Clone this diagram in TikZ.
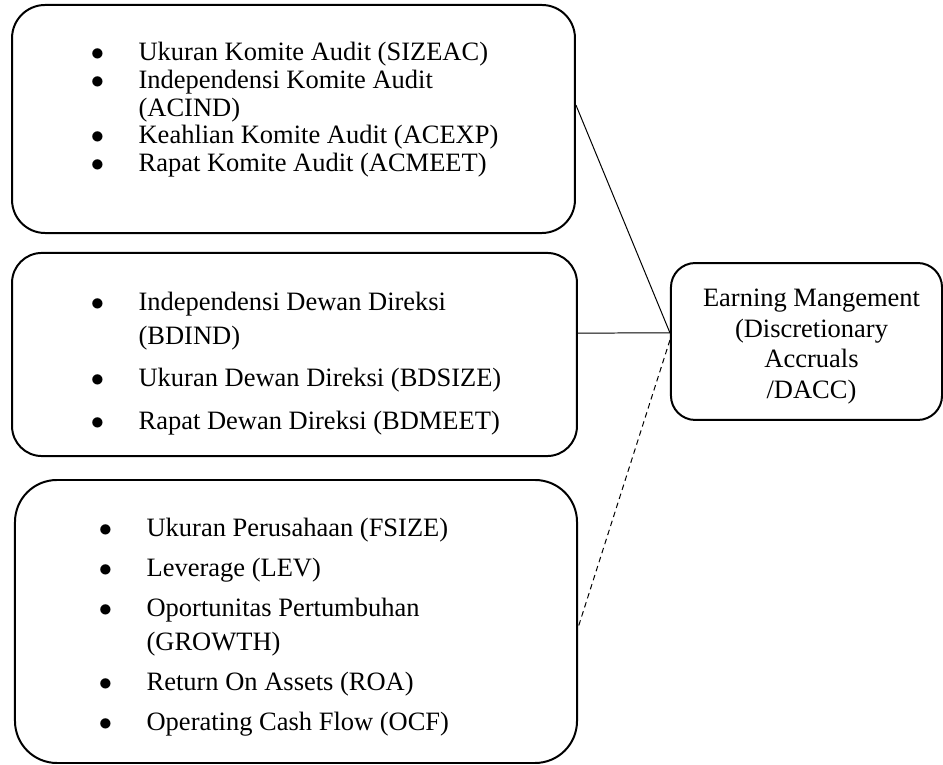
\documentclass[tikz,border=0pt]{standalone}
\usepackage{fontspec}
\setmainfont{Liberation Serif}
\tikzstyle{box}=[draw, line width=0.9pt, inner sep=0pt]
\tikzstyle{items}=[anchor=base west, inner sep=0pt]
\tikzstyle{link}=[line width=0.45pt]
\newcommand{\bul}{$\bullet$}

\begin{document}
\begin{tikzpicture}[x=0.453pt, y=-0.453pt]
    \useasboundingbox (0,0) rectangle (943,765);
% Boxes
    \node[box, rounded corners=15pt, minimum width=255pt, minimum height=103.3pt] (audit) at (293.5,119) {};
    \node[box, rounded corners=13.5pt, minimum width=255.9pt, minimum height=92pt] (board) at (294.5,354.5) {};
    \node[box, rounded corners=19pt, minimum width=254.6pt, minimum height=128.2pt] (firm) at (296,621.5) {};
    \node[box, rounded corners=11pt, minimum width=122.8pt, minimum height=71.1pt] (dacc) at (806.5,341.5) {};
    \node[align=center, inner sep=0pt, font=\fontsize{12}{13.8}\selectfont] (dacctext) at (811.5,346.5)
        {Earning Mangement\\(Discretionary\\Accruals\\/DACC)};
% Lists
    \node[items, font=\fontsize{12}{12.46}\selectfont] (auditlist) at (90.5,61) {%
        \begin{tabular}[t]{@{}p{21.6pt}@{}l@{}}
        \bul & Ukuran Komite Audit (SIZEAC)\\
        \bul & Independensi Komite Audit\\
             & (ACIND)\\
        \bul & Keahlian Komite Audit (ACEXP)\\
        \bul & Rapat Komite Audit (ACMEET)
        \end{tabular}};
    \node[items, font=\fontsize{12}{15}\selectfont] (boardlist) at (90.5,311) {%
        \begin{tabular}[t]{@{}p{21.6pt}@{}l@{}}
        \bul & Independensi Dewan Direksi\\
             & (BDIND)\\[4.3pt]
        \bul & Ukuran Dewan Direksi (BDSIZE)\\[4.3pt]
        \bul & Rapat Dewan Direksi (BDMEET)
        \end{tabular}};
    \node[items, font=\fontsize{12}{15.4}\selectfont] (firmlist) at (98.5,537) {%
        \begin{tabular}[t]{@{}p{21.6pt}@{}l@{}}
        \bul & Ukuran Perusahaan (FSIZE)\\[2.7pt]
        \bul & Leverage (LEV)\\[2.7pt]
        \bul & Oportunitas Pertumbuhan\\
             & (GROWTH)\\[2.7pt]
        \bul & Return On Assets (ROA)\\[2.7pt]
        \bul & Operating Cash Flow (OCF)
        \end{tabular}};
% Links to DACC
    \draw[link] ([yshift=6.3pt]audit.east) -- ([yshift=3.9pt]dacc.west);
    \draw[link] ([yshift=9.7pt]board.east) -- ([yshift=3.9pt]dacc.west);
    \draw[link, dash pattern=on 2.5pt off 1.8pt] ([yshift=0.7pt]dacc.west) -- ([yshift=-2.9pt]firm.east);
\end{tikzpicture}
\end{document}
